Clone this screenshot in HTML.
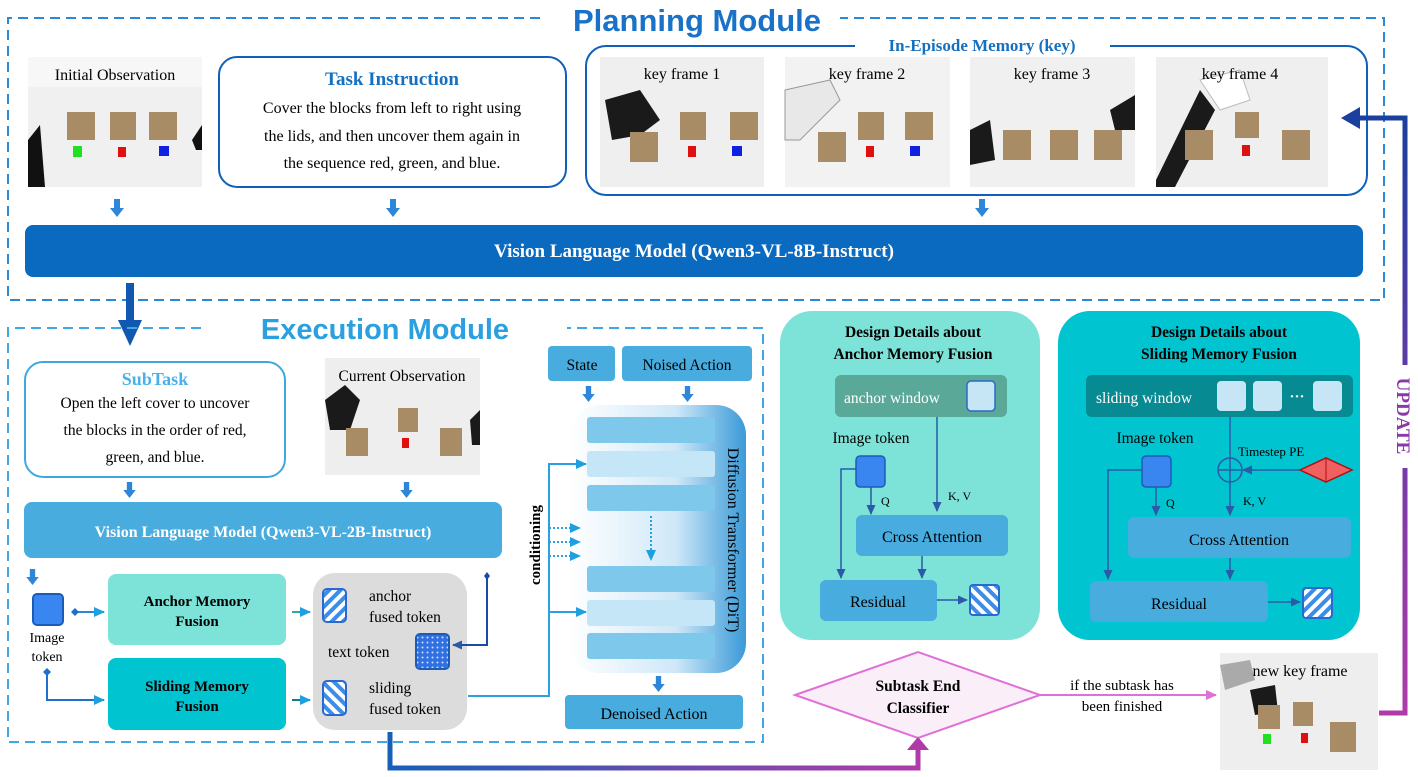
<!DOCTYPE html>
<html><head><meta charset="utf-8"><style>
html,body{margin:0;padding:0;background:#fff;}
svg{display:block;font-family:"Liberation Serif",serif;}
.b{font-weight:bold}
</style></head><body>
<svg width="1418" height="777" viewBox="0 0 1418 777" xmlns="http://www.w3.org/2000/svg">
<defs>
<pattern id="st1" width="8" height="8" patternUnits="userSpaceOnUse" patternTransform="rotate(45)"><rect width="8" height="8" fill="#fff"/><rect width="4" height="8" fill="#3b8de8"/></pattern>
<pattern id="st2" width="8" height="8" patternUnits="userSpaceOnUse" patternTransform="rotate(-45)"><rect width="8" height="8" fill="#fff"/><rect width="4" height="8" fill="#3b8de8"/></pattern>
<pattern id="dots" width="5" height="5" patternUnits="userSpaceOnUse"><rect width="5" height="5" fill="#3070e0"/><circle cx="2.5" cy="2.5" r="1" fill="#cfe0ff"/></pattern>
<linearGradient id="dit" x1="0" x2="1"><stop offset="0" stop-color="#ffffff"/><stop offset="0.6" stop-color="#cfe8f8"/><stop offset="1" stop-color="#3a9ad8"/></linearGradient>
<linearGradient id="bot" x1="0" x2="1"><stop offset="0" stop-color="#1560b8"/><stop offset="1" stop-color="#b03aa8"/></linearGradient>
<linearGradient id="upd" x1="0" x2="0" y1="0" y2="1"><stop offset="0" stop-color="#1a3f9c"/><stop offset="0.5" stop-color="#6a3aa8"/><stop offset="1" stop-color="#b03aa8"/></linearGradient>
<marker id="ah" markerUnits="userSpaceOnUse" markerWidth="11" markerHeight="11" refX="9" refY="5.5" orient="auto"><path d="M0,1 L10,5.5 L0,10 z" fill="#2a5aa8"/></marker>
<marker id="ahl" markerUnits="userSpaceOnUse" markerWidth="12" markerHeight="12" refX="10" refY="6" orient="auto"><path d="M0,1 L11,6 L0,11 z" fill="#1ea0e0"/></marker>
<marker id="ahp" markerUnits="userSpaceOnUse" markerWidth="12" markerHeight="12" refX="10" refY="6" orient="auto"><path d="M0,1 L11,6 L0,11 z" fill="#e070d8"/></marker>
<symbol id="da" viewBox="0 0 14 18"><rect x="4" y="0" width="6" height="10" fill="#2d86d8"/><path d="M0,9 L14,9 L7,18 z" fill="#2d86d8"/></symbol>
</defs>

<path d="M540,18 H8 V300 H1384 V18 H840" fill="none" stroke="#2a8ad8" stroke-width="2" stroke-dasharray="10,6"/>
<text x="697" y="31" text-anchor="middle" font-family="Liberation Sans,sans-serif" font-weight="bold" font-size="31" fill="#1a72c8">Planning Module</text>

<rect x="28" y="57" width="174" height="130" fill="#f0f0f0"/>
<rect x="28" y="57" width="174" height="30" fill="#f7f7f7"/>
<path d="M28,140 L40,125 L45,187 L28,187z" fill="#111"/><path d="M202,125 L192,140 L196,150 L202,150z" fill="#111"/>
<rect x="67" y="112" width="28" height="28" fill="#a88c66"/><rect x="110" y="112" width="26" height="28" fill="#a88c66"/><rect x="149" y="112" width="28" height="28" fill="#a88c66"/>
<rect x="73" y="146" width="9" height="11" fill="#20e020"/><rect x="118" y="147" width="8" height="10" fill="#e01010"/><rect x="159" y="146" width="10" height="10" fill="#1020e0"/>
<text x="115" y="80" text-anchor="middle" font-size="16">Initial Observation</text>

<rect x="219" y="57" width="347" height="130" rx="18" fill="#fff" stroke="#1060b8" stroke-width="2"/>
<text x="392" y="85" text-anchor="middle" class="b" font-size="19" fill="#1670c0">Task Instruction</text>
<text x="392" y="113" text-anchor="middle" font-size="16">Cover the blocks from left to right using</text>
<text x="392" y="141" text-anchor="middle" font-size="16">the lids, and then uncover them again in</text>
<text x="392" y="168" text-anchor="middle" font-size="16">the sequence red, green, and blue.</text>

<rect x="586" y="46" width="781" height="149" rx="20" fill="#fff" stroke="#1060b8" stroke-width="2"/>
<rect x="855" y="36" width="255" height="20" fill="#fff"/>
<text x="982" y="51" text-anchor="middle" class="b" font-size="17" fill="#1670c0">In-Episode Memory (key)</text>
<g>
<rect x="600" y="57" width="164" height="130" fill="#efefef"/><path d="M605,100 L640,90 L660,120 L640,135 L612,140z" fill="#1a1a1a"/>
<rect x="630" y="132" width="28" height="30" fill="#a88c66"/><rect x="680" y="112" width="26" height="28" fill="#a88c66"/><rect x="688" y="146" width="8" height="11" fill="#e01010"/><rect x="730" y="112" width="28" height="28" fill="#a88c66"/><rect x="732" y="146" width="10" height="10" fill="#1020e0"/>
<text x="682" y="79" text-anchor="middle" font-size="16">key frame 1</text>
<rect x="785" y="57" width="165" height="130" fill="#f2f2f2"/><path d="M785,90 L830,80 L840,100 L800,140 L785,140z" fill="#e8e8e8" stroke="#999"/>
<rect x="818" y="132" width="28" height="30" fill="#a88c66"/><rect x="858" y="112" width="26" height="28" fill="#a88c66"/><rect x="866" y="146" width="8" height="11" fill="#e01010"/><rect x="905" y="112" width="28" height="28" fill="#a88c66"/><rect x="910" y="146" width="10" height="10" fill="#1020e0"/>
<text x="867" y="79" text-anchor="middle" font-size="16">key frame 2</text>
<rect x="970" y="57" width="165" height="130" fill="#f0f0f0"/><path d="M970,130 L990,120 L995,160 L970,165z" fill="#1a1a1a"/><path d="M1135,95 L1110,110 L1115,130 L1135,130z" fill="#1a1a1a"/>
<rect x="1003" y="130" width="28" height="30" fill="#a88c66"/><rect x="1050" y="130" width="28" height="30" fill="#a88c66"/><rect x="1094" y="130" width="28" height="30" fill="#a88c66"/>
<text x="1052" y="79" text-anchor="middle" font-size="16">key frame 3</text>
<rect x="1156" y="57" width="172" height="130" fill="#efefef"/><path d="M1156,180 L1200,90 L1215,110 L1175,187 L1156,187z" fill="#1a1a1a"/><path d="M1200,80 L1240,70 L1250,100 L1220,110z" fill="#fff" stroke="#bbb"/>
<rect x="1185" y="130" width="28" height="30" fill="#a88c66"/><rect x="1235" y="112" width="24" height="26" fill="#a88c66"/><rect x="1242" y="145" width="8" height="11" fill="#e01010"/><rect x="1282" y="130" width="28" height="30" fill="#a88c66"/>
<text x="1240" y="79" text-anchor="middle" font-size="16">key frame 4</text>
</g>
<use href="#da" x="110" y="199" width="14" height="18"/><use href="#da" x="386" y="199" width="14" height="18"/><use href="#da" x="975" y="199" width="14" height="18"/>

<rect x="25" y="225" width="1338" height="52" rx="8" fill="#0a6ac0"/>
<text x="694" y="257" text-anchor="middle" class="b" font-size="19" fill="#fff">Vision Language Model (Qwen3-VL-8B-Instruct)</text>

<rect x="126" y="283" width="8" height="40" fill="#1058b0"/><path d="M118,320 L142,320 L130,346z" fill="#1058b0"/>

<path d="M201,328 H8 V742 H763 V328 H567" fill="none" stroke="#40a8e0" stroke-width="2" stroke-dasharray="10,6"/>
<text x="385" y="339" text-anchor="middle" font-family="Liberation Sans,sans-serif" font-weight="bold" font-size="29" fill="#2aa0e0">Execution Module</text>

<rect x="25" y="362" width="260" height="115" rx="18" fill="#fff" stroke="#40a8e0" stroke-width="2"/>
<text x="155" y="385" text-anchor="middle" class="b" font-size="18" fill="#4ab0e8">SubTask</text>
<text x="155" y="408" text-anchor="middle" font-size="15.5">Open the left cover to uncover</text>
<text x="155" y="435" text-anchor="middle" font-size="15.5">the blocks in the order of red,</text>
<text x="155" y="462" text-anchor="middle" font-size="15.5">green, and blue.</text>

<rect x="325" y="358" width="155" height="117" fill="#eeeeee"/>
<path d="M325,400 L345,385 L360,400 L350,430 L330,430z" fill="#1a1a1a"/><path d="M480,410 L470,420 L472,445 L480,445z" fill="#1a1a1a"/>
<rect x="346" y="428" width="22" height="28" fill="#a88c66"/><rect x="398" y="408" width="20" height="24" fill="#a88c66"/><rect x="402" y="438" width="7" height="10" fill="#e01010"/><rect x="440" y="428" width="22" height="28" fill="#a88c66"/>
<text x="402" y="381" text-anchor="middle" font-size="15.5">Current Observation</text>
<use href="#da" x="123" y="482" width="13" height="16"/><use href="#da" x="400" y="482" width="13" height="16"/>

<rect x="24" y="502" width="478" height="56" rx="8" fill="#48acdf"/>
<text x="263" y="537" text-anchor="middle" class="b" font-size="16" fill="#fff">Vision Language Model (Qwen3-VL-2B-Instruct)</text>

<use href="#da" x="26" y="569" width="13" height="16"/>
<rect x="33" y="594" width="30" height="31" rx="4" fill="#3a86f0" stroke="#1c5cb8" stroke-width="2"/>
<text x="47" y="642" text-anchor="middle" font-size="14">Image</text><text x="47" y="661" text-anchor="middle" font-size="14">token</text>
<path d="M75,612 H104" stroke="#2d86d8" stroke-width="2" marker-end="url(#ahl)"/>
<path d="M75,608 L79,612 L75,616 L71,612z" fill="#1d6fd0"/>
<path d="M47,672 V700 H104" fill="none" stroke="#1d6fd0" stroke-width="2" marker-end="url(#ahl)"/>
<path d="M47,668 L51,672 L47,676 L43,672z" fill="#1d6fd0"/>

<rect x="108" y="574" width="178" height="71" rx="8" fill="#7de3d9"/>
<text x="197" y="606" text-anchor="middle" class="b" font-size="15">Anchor Memory</text><text x="197" y="626" text-anchor="middle" class="b" font-size="15">Fusion</text>
<rect x="108" y="658" width="178" height="72" rx="8" fill="#00c4d0"/>
<text x="197" y="691" text-anchor="middle" class="b" font-size="15">Sliding Memory</text><text x="197" y="711" text-anchor="middle" class="b" font-size="15">Fusion</text>
<path d="M292,612 H310" stroke="#30a8a0" stroke-width="2" marker-end="url(#ahl)"/>
<path d="M292,700 H310" stroke="#1a7a80" stroke-width="2" marker-end="url(#ahl)"/>

<rect x="313" y="573" width="154" height="157" rx="22" fill="#dcdcdc"/>
<rect x="323" y="589" width="23" height="33" rx="4" fill="url(#st1)" stroke="#2a6ad0" stroke-width="2"/>
<text x="369" y="601" font-size="15.5">anchor</text><text x="369" y="622" font-size="15.5">fused token</text>
<text x="328" y="657" font-size="15.5">text token</text>
<rect x="416" y="634" width="33" height="35" rx="4" fill="url(#dots)" stroke="#1c5cb8" stroke-width="2"/>
<rect x="323" y="681" width="23" height="34" rx="4" fill="url(#st2)" stroke="#2a6ad0" stroke-width="2"/>
<text x="369" y="693" font-size="15.5">sliding</text><text x="369" y="714" font-size="15.5">fused token</text>
<path d="M487,576 V645 H453" fill="none" stroke="#1a4aa8" stroke-width="2" marker-end="url(#ah)"/>
<path d="M487,572 L490,576 L487,580 L484,576z" fill="#1a4aa8"/>

<rect x="548" y="346" width="67" height="35" rx="4" fill="#48acdf"/><text x="582" y="370" text-anchor="middle" font-size="15.5">State</text>
<rect x="622" y="346" width="130" height="35" rx="4" fill="#48acdf"/><text x="687" y="370" text-anchor="middle" font-size="15.5">Noised Action</text>
<use href="#da" x="582" y="386" width="13" height="16"/><use href="#da" x="681" y="386" width="13" height="16"/>
<rect x="570" y="405" width="176" height="268" rx="30" fill="url(#dit)"/>
<g fill="#7ec8ec"><rect x="587" y="417" width="128" height="26" rx="3"/><rect x="587" y="451" width="128" height="26" rx="3" fill="#c4e6f6"/><rect x="587" y="485" width="128" height="26" rx="3"/><rect x="587" y="566" width="128" height="26" rx="3"/><rect x="587" y="600" width="128" height="26" rx="3" fill="#c4e6f6"/><rect x="587" y="633" width="128" height="26" rx="3"/></g>
<path d="M651,516 V560" stroke="#2aa0e0" stroke-width="2" stroke-dasharray="2,2" marker-end="url(#ahl)"/>
<text transform="translate(728,540) rotate(90)" text-anchor="middle" font-size="16">Diffusion Transformer (DiT)</text>
<use href="#da" x="652" y="676" width="13" height="16"/>
<rect x="565" y="695" width="178" height="34" rx="4" fill="#48acdf"/><text x="654" y="719" text-anchor="middle" font-size="16">Denoised Action</text>

<path d="M468,696 H549 V464 H586" fill="none" stroke="#2aa0e0" stroke-width="2" marker-end="url(#ahl)"/>
<path d="M549,612 H586" fill="none" stroke="#2aa0e0" stroke-width="2" marker-end="url(#ahl)"/>
<path d="M549,528 H580" fill="none" stroke="#2aa0e0" stroke-width="2" stroke-dasharray="2,2" marker-end="url(#ahl)"/>
<path d="M549,542 H580" fill="none" stroke="#2aa0e0" stroke-width="2" stroke-dasharray="2,2" marker-end="url(#ahl)"/>
<path d="M549,556 H580" fill="none" stroke="#2aa0e0" stroke-width="2" stroke-dasharray="2,2" marker-end="url(#ahl)"/>
<text transform="translate(540,545) rotate(-90)" text-anchor="middle" class="b" font-size="15">conditioning</text>

<rect x="780" y="311" width="260" height="329" rx="32" fill="#7de3d9"/>
<text x="913" y="337" text-anchor="middle" class="b" font-size="15.5">Design Details about</text>
<text x="913" y="359" text-anchor="middle" class="b" font-size="15.5">Anchor Memory Fusion</text>
<rect x="835" y="375" width="172" height="42" rx="6" fill="#5aa898"/>
<text x="844" y="403" font-size="15.5" fill="#fff">anchor window</text>
<rect x="967" y="381" width="28" height="30" rx="4" fill="#c6e6f6" stroke="#2a6ac8" stroke-width="1.5"/>
<text x="871" y="443" text-anchor="middle" font-size="15.5">Image token</text>
<rect x="856" y="456" width="29" height="31" rx="4" fill="#3a86f0" stroke="#1c5cb8" stroke-width="1.5"/>
<path d="M937,417 V511" stroke="#2a5aa8" stroke-width="1.5" marker-end="url(#ah)"/>
<path d="M871,487 V514" stroke="#2a5aa8" stroke-width="1.5" marker-end="url(#ah)"/>
<path d="M856,469 H841 V578" fill="none" stroke="#2a5aa8" stroke-width="1.5" marker-end="url(#ah)"/>
<text x="881" y="505" font-size="12">Q</text><text x="948" y="500" font-size="12">K, V</text>
<rect x="856" y="515" width="152" height="41" rx="6" fill="#48acdf"/><text x="932" y="542" text-anchor="middle" font-size="16">Cross Attention</text>
<path d="M922,556 V578" stroke="#2a5aa8" stroke-width="1.5" marker-end="url(#ah)"/>
<rect x="820" y="580" width="117" height="41" rx="6" fill="#48acdf"/><text x="878" y="607" text-anchor="middle" font-size="16">Residual</text>
<path d="M937,600 H967" stroke="#2a5aa8" stroke-width="1.5" marker-end="url(#ah)"/>
<rect x="970" y="585" width="29" height="30" rx="3" fill="url(#st2)" stroke="#2a6ad0" stroke-width="2"/>

<rect x="1058" y="311" width="302" height="329" rx="32" fill="#00c4d0"/>
<text x="1219" y="337" text-anchor="middle" class="b" font-size="15.5">Design Details about</text>
<text x="1219" y="359" text-anchor="middle" class="b" font-size="15.5">Sliding Memory Fusion</text>
<rect x="1086" y="375" width="267" height="42" rx="6" fill="#078a92"/>
<text x="1096" y="403" font-size="15.5" fill="#fff">sliding window</text>
<rect x="1217" y="381" width="29" height="30" rx="4" fill="#c6e6f6"/><rect x="1253" y="381" width="29" height="30" rx="4" fill="#c6e6f6"/><rect x="1313" y="381" width="29" height="30" rx="4" fill="#c6e6f6"/>
<text x="1297" y="401" text-anchor="middle" class="b" font-size="15" fill="#fff">···</text>
<text x="1155" y="443" text-anchor="middle" font-size="15.5">Image token</text>
<text x="1238" y="456" font-size="13">Timestep PE</text>
<rect x="1142" y="456" width="29" height="31" rx="4" fill="#3a86f0" stroke="#1c5cb8" stroke-width="1.5"/>
<path d="M1230,417 V458" stroke="#2a5aa8" stroke-width="1.5"/>
<circle cx="1230" cy="470" r="12" fill="none" stroke="#2a5aa8" stroke-width="1.5"/>
<path d="M1218,470 H1242 M1230,458 V482" stroke="#2a5aa8" stroke-width="1.5"/>
<path d="M1230,482 V515" stroke="#2a5aa8" stroke-width="1.5" marker-end="url(#ah)"/>
<path d="M1300,470 H1243" stroke="#2a5aa8" stroke-width="1.5" marker-end="url(#ah)"/>
<path d="M1300,470 L1326,458 L1352,470 L1326,482z" fill="#f06060" stroke="#b01010" stroke-width="1.5"/><path d="M1326,458 V482" stroke="#b01010"/>
<path d="M1156,487 V515" stroke="#2a5aa8" stroke-width="1.5" marker-end="url(#ah)"/>
<path d="M1142,470 H1108 V579" fill="none" stroke="#2a5aa8" stroke-width="1.5" marker-end="url(#ah)"/>
<text x="1166" y="507" font-size="12">Q</text><text x="1243" y="505" font-size="12">K, V</text>
<rect x="1128" y="517" width="223" height="41" rx="6" fill="#48acdf"/><text x="1239" y="545" text-anchor="middle" font-size="16">Cross Attention</text>
<path d="M1230,558 V579" stroke="#2a5aa8" stroke-width="1.5" marker-end="url(#ah)"/>
<rect x="1090" y="581" width="178" height="41" rx="6" fill="#48acdf"/><text x="1179" y="609" text-anchor="middle" font-size="16">Residual</text>
<path d="M1268,602 H1300" stroke="#2a5aa8" stroke-width="1.5" marker-end="url(#ah)"/>
<rect x="1303" y="588" width="29" height="30" rx="3" fill="url(#st1)" stroke="#2a6ad0" stroke-width="2"/>

<path d="M795,695 L918,652 L1040,695 L918,738z" fill="#faeef8" stroke="#e070d8" stroke-width="2"/>
<text x="918" y="691" text-anchor="middle" class="b" font-size="15.5">Subtask End</text>
<text x="918" y="713" text-anchor="middle" class="b" font-size="15.5">Classifier</text>
<path d="M1040,695 H1216" stroke="#e070d8" stroke-width="2" marker-end="url(#ahp)"/>
<text x="1122" y="690" text-anchor="middle" font-size="15">if the subtask has</text>
<text x="1122" y="711" text-anchor="middle" font-size="15">been finished</text>
<rect x="1220" y="653" width="158" height="117" fill="#eeeeee"/>
<path d="M1220,665 L1250,660 L1255,680 L1225,690z" fill="#aaa"/><path d="M1250,690 L1275,685 L1278,712 L1255,715z" fill="#1a1a1a"/>
<rect x="1258" y="705" width="22" height="24" fill="#a88c66"/><rect x="1293" y="702" width="20" height="24" fill="#a88c66"/><rect x="1330" y="722" width="26" height="30" fill="#a88c66"/>
<rect x="1263" y="734" width="8" height="10" fill="#20e020"/><rect x="1301" y="733" width="7" height="10" fill="#e01010"/>
<text x="1300" y="676" text-anchor="middle" font-size="16">new key frame</text>

<path d="M390,732 V768 H918 V748" fill="none" stroke="url(#bot)" stroke-width="5"/>
<path d="M907,750 L929,750 L918,737z" fill="#b03aa8"/>
<path d="M1379,713 H1405 V118 H1358" fill="none" stroke="url(#upd)" stroke-width="5"/>
<path d="M1360,107 L1360,129 L1341,118z" fill="#1a3f9c"/>
<rect x="1394" y="365" width="22" height="103" fill="#fff"/>
<text transform="translate(1397,416) rotate(90)" text-anchor="middle" class="b" font-size="19" fill="#8a3aa8">UPDATE</text>
</svg>
</body></html>
